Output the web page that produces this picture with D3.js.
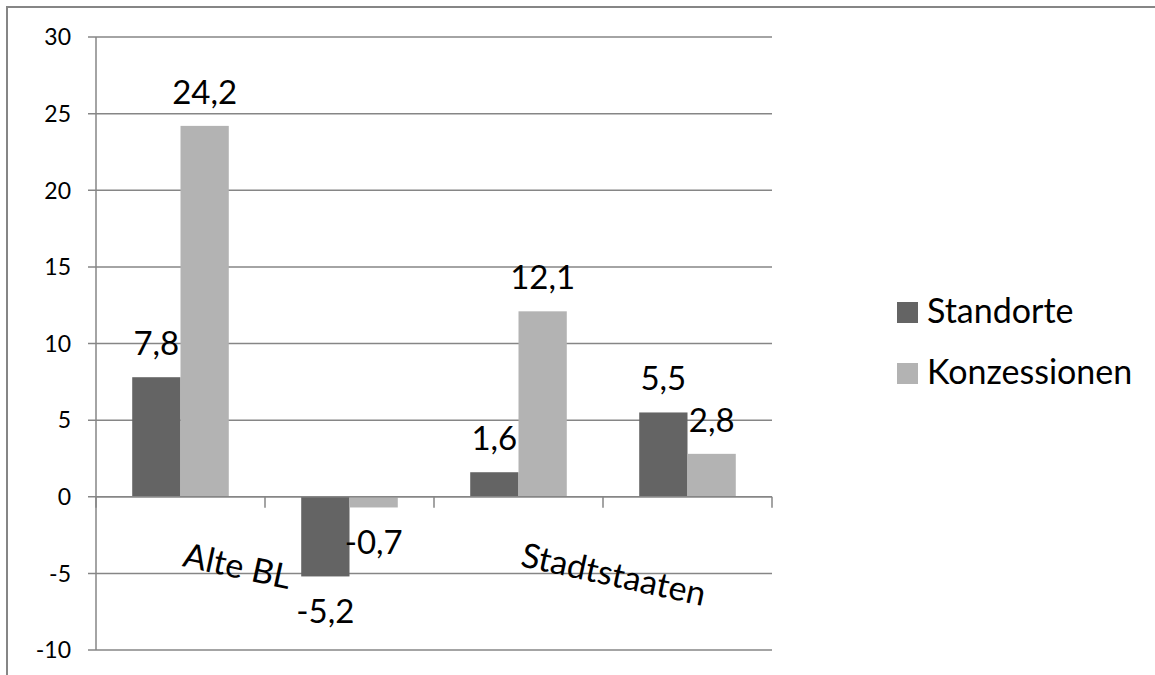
<!DOCTYPE html>
<html>
<head>
<meta charset="utf-8">
<script src="https://cdn.jsdelivr.net/npm/d3@7"></script>
<style>
  html, body { margin: 0; padding: 0; background: #fff; overflow: hidden; }
  svg { display: block; font-family: Lato, "Open Sans", sans-serif; }
</style>
</head>
<body>
<svg id="chart" width="1155" height="675"></svg>
<script>
// ---- data ----
const categories = ["Alte BL", "", "Stadtstaaten", ""];   // only every other label is shown in the original
const seriesNames = ["Standorte", "Konzessionen"];
const standorte = [7.8, -5.2, 1.6, 5.5];
const konzessionen = [24.2, -0.7, 12.1, 2.8];
const yTicks = [-10, -5, 0, 5, 10, 15, 20, 25, 30];
const seriesColors = ["#646464", "#b3b3b3"];

const seriesValues = [standorte, konzessionen];
const fmt = v => String(v).replace(".", ",");

const svg = d3.select("#chart");

// outer frame (only top and left edges fall inside the picture)
svg.append("path")
  .attr("d", "M7,680 L7,7 L1160,7")
  .attr("fill", "none").attr("stroke", "#868686").attr("stroke-width", 2);

const plot = { left: 96, right: 772, top: 37, bottom: 650 };

const y = d3.scaleLinear().domain([-10, 30]).range([plot.bottom, plot.top]);
const x = d3.scaleBand().domain(d3.range(categories.length)).range([plot.left, plot.right]).padding(0);
const bw = x.bandwidth() / 3.5; // Excel gap width 150%
const xs = d3.scaleBand().domain(d3.range(seriesNames.length))
  .range([bw * 0.75, bw * 0.75 + bw * 2]).padding(0);

// gridlines
svg.append("g").selectAll("line").data(yTicks).join("line")
  .attr("x1", plot.left - 8).attr("x2", plot.right)
  .attr("y1", d => y(d)).attr("y2", d => y(d))
  .attr("stroke", "#868686").attr("stroke-width", 1.5);

// y axis line
svg.append("line")
  .attr("x1", plot.left).attr("x2", plot.left)
  .attr("y1", y(30)).attr("y2", y(-10))
  .attr("stroke", "#868686").attr("stroke-width", 1.5);

// y tick labels
svg.append("g").selectAll("text").data(yTicks).join("text")
  .attr("x", 71).attr("y", d => y(d)).attr("dy", "0.36em")
  .attr("text-anchor", "end").attr("font-size", 23).attr("fill", "#000")
  .text(d => d);

// bars
const groups = svg.append("g").selectAll("g").data(seriesValues).join("g")
  .attr("fill", (d, i) => seriesColors[i]);
groups.each(function(vals, si) {
  d3.select(this).selectAll("rect").data(vals).join("rect")
    .attr("x", (v, ci) => x(ci) + xs(si))
    .attr("width", xs.bandwidth())
    .attr("y", v => y(Math.max(0, v)))
    .attr("height", v => Math.abs(y(v) - y(0)));
});

// category axis (zero line) with tick marks
svg.append("line")
  .attr("x1", plot.left).attr("x2", plot.right)
  .attr("y1", y(0)).attr("y2", y(0))
  .attr("stroke", "#868686").attr("stroke-width", 1.5);
const tickPos = d3.range(categories.length).map(i => x(i)).concat([plot.right]);
svg.append("g").selectAll("line").data(tickPos).join("line")
  .attr("x1", d => d).attr("x2", d => d)
  .attr("y1", y(0)).attr("y2", y(0) + 11)
  .attr("stroke", "#868686").attr("stroke-width", 1.5);

// data labels
seriesValues.forEach((vals, si) => {
  svg.append("g").selectAll("text").data(vals).join("text")
    .attr("x", (v, ci) => x(ci) + xs(si) + xs.bandwidth() / 2)
    .attr("y", v => v >= 0 ? y(v) - 22 : y(v) + 47)
    .attr("text-anchor", "middle").attr("font-size", 33).attr("fill", "#000")
    .text(v => fmt(v));
});

// category labels (rotated)
svg.append("g").selectAll("text").data(categories).join("text")
  .attr("transform", (c, i) => `translate(${x(i) + x.bandwidth() / 2 + 1},566) rotate(12.3)`)
  .attr("font-size", 34).attr("fill", "#000")
  .text(c => c);

// legend
const lg = svg.append("g").selectAll("g").data(seriesNames).join("g")
  .attr("transform", (d, i) => `translate(897,${302 + i * 61})`);
lg.append("rect").attr("width", 21).attr("height", 21)
  .attr("fill", (d, i) => seriesColors[i]);
lg.append("text").attr("x", 30).attr("y", 21)
  .attr("font-size", 34).attr("fill", "#000").text(d => d);
</script>
</body>
</html>
